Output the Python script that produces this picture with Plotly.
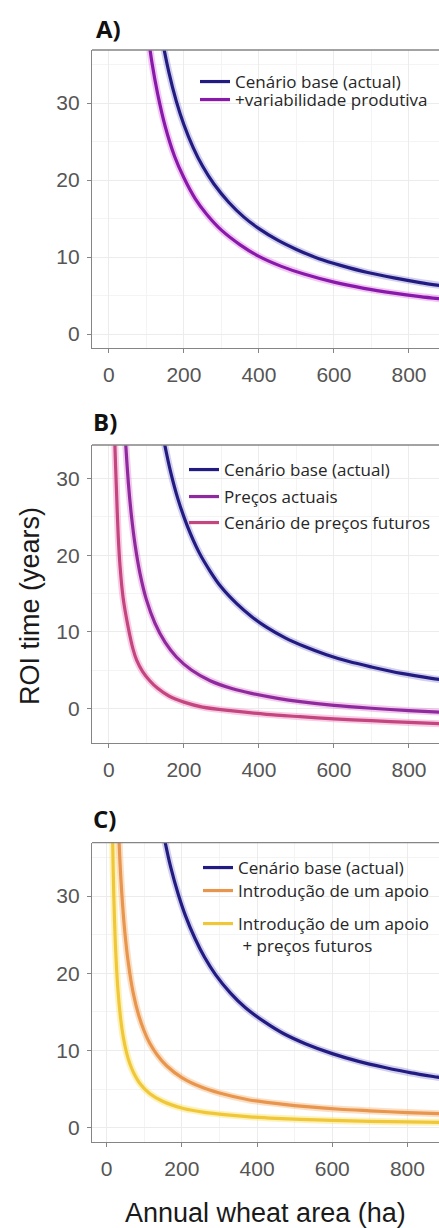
import plotly.graph_objects as go

# ---------------- data ----------------
# Panel A
a_base_x = [130, 140, 160, 180, 200, 225, 250, 280, 320, 360, 400, 450, 500, 560, 620, 690, 760, 830, 900]
a_base_y = [41.7, 38.8, 34.0, 30.2, 27.2, 24.2, 21.8, 19.5, 17.1, 15.2, 13.7, 12.2, 11.0, 9.8, 8.9, 8.0, 7.3, 6.7, 6.2]
a_var_x = [95, 100, 115, 130, 150, 175, 200, 230, 260, 300, 350, 400, 460, 520, 600, 680, 760, 830, 900]
a_var_y = [42.6, 40.5, 35.2, 31.2, 27.0, 23.1, 20.3, 17.6, 15.6, 13.5, 11.6, 10.1, 8.8, 7.8, 6.75, 5.95, 5.33, 4.88, 4.5]

# Panel B
b_base_x = [140, 149, 165, 185, 210, 240, 270, 300, 340, 380, 420, 470, 520, 580, 640, 700, 780, 860, 920]
b_base_y = [36.8, 34.4, 30.8, 27.2, 23.7, 20.4, 17.9, 15.8, 13.7, 12.0, 10.6, 9.2, 8.1, 7.0, 6.1, 5.4, 4.55, 3.9, 3.5]
b_cur_x = [40, 45, 52, 60, 70, 83, 100, 123, 150, 180, 220, 270, 330, 380, 450, 510, 600, 700, 800, 900]
b_cur_y = [39.0, 34.4, 29.4, 25.2, 21.3, 17.6, 14.2, 11.1, 8.6, 6.7, 5.0, 3.6, 2.55, 1.95, 1.3, 0.87, 0.38, 0.0, -0.31, -0.54]
b_fut_x = [14, 16, 20, 25, 30, 38, 51, 64, 74, 90, 109, 130, 160, 200, 250, 330, 420, 510, 600, 700, 800, 900]
b_fut_y = [38.8, 34.4, 28.8, 22.4, 18.4, 14.4, 10.7, 7.8, 6.3, 4.8, 3.6, 2.6, 1.6, 0.8, 0.15, -0.35, -0.8, -1.1, -1.38, -1.62, -1.85, -2.05]

# Panel C
c_base_x = [145, 155, 170, 190, 210, 235, 260, 290, 330, 370, 420, 470, 530, 600, 670, 740, 810, 880, 940]
c_base_y = [39.7, 37.1, 33.8, 30.3, 27.4, 24.5, 22.1, 19.8, 17.4, 15.5, 13.7, 12.2, 10.85, 9.6, 8.6, 7.8, 7.1, 6.55, 6.1]
c_sup_x = [30, 35, 40, 48, 58, 70, 85, 100, 115, 135, 160, 200, 250, 300, 380, 460, 540, 620, 700, 800, 900]
c_sup_y = [40.5, 34.8, 30.5, 25.5, 21.2, 17.6, 14.6, 12.5, 10.9, 9.4, 8.0, 6.5, 5.3, 4.5, 3.6, 3.1, 2.7, 2.4, 2.2, 1.97, 1.8]
c_supfut_x = [14, 16, 19, 23, 30, 37, 44, 53, 62, 71, 89, 115, 150, 204, 260, 320, 381, 450, 514, 600, 700, 800, 900]
c_supfut_y = [43.6, 36.9, 30.0, 24.0, 17.85, 14.2, 11.8, 9.7, 8.25, 7.2, 5.7, 4.4, 3.4, 2.5, 2.0, 1.67, 1.42, 1.23, 1.1, 0.96, 0.84, 0.76, 0.7]

names = {
    "base": "Cenário base (actual)",
    "var": "+variabilidade produtiva",
    "cur": "Preços actuais",
    "fut": "Cenário de preços futuros",
    "sup": "Introdução de um apoio",
    "supfut": "Introdução de um apoio<br> + preços futuros",
}
x_ticks = [0, 200, 400, 600, 800]
y_ticks = [0, 10, 20, 30]

col = {
    "base": "#221c82",
    "var": "#8819aa",
    "cur": "#8f2a9e",
    "fut": "#c4467f",
    "sup": "#e8964e",
    "supfut": "#f1c73a",
}
halo = {
    "base": "rgba(110,100,200,0.30)",
    "var": "rgba(215,80,220,0.32)",
    "cur": "rgba(215,90,200,0.32)",
    "fut": "rgba(240,120,190,0.38)",
    "sup": "rgba(245,170,100,0.38)",
    "supfut": "rgba(250,225,90,0.42)",
}

W, H = 439, 1228
fig = go.Figure()


def px_x(p):
    return p / W


def px_y(p):
    return 1 - p / H


series = [
    # (panel, key, x, y, legend name, legend row center y px, legend text left px)
    (1, "base", a_base_x, a_base_y, "legend", 82, 235),
    (1, "var", a_var_x, a_var_y, "legend2", 100, 235),
    (2, "base", b_base_x, b_base_y, "legend3", 470, 224),
    (2, "cur", b_cur_x, b_cur_y, "legend4", 497, 224),
    (2, "fut", b_fut_x, b_fut_y, "legend5", 523, 224),
    (3, "base", c_base_x, c_base_y, "legend6", 868, 238),
    (3, "sup", c_sup_x, c_sup_y, "legend7", 891, 238),
    (3, "supfut", c_supfut_x, c_supfut_y, "legend8", 919, 238),
]

for panel, key, xs, ys, leg, ly, lx in series:
    xa = "x" if panel == 1 else f"x{panel}"
    ya = "y" if panel == 1 else f"y{panel}"
    fig.add_trace(go.Scatter(x=xs, y=ys, mode="lines",
                             line=dict(color=halo[key], width=7, shape="spline", smoothing=0.8),
                             xaxis=xa, yaxis=ya, showlegend=False, hoverinfo="skip"))
for panel, key, xs, ys, leg, ly, lx in series:
    xa = "x" if panel == 1 else f"x{panel}"
    ya = "y" if panel == 1 else f"y{panel}"
    fig.add_trace(go.Scatter(x=xs, y=ys, mode="lines", name=names[key],
                             line=dict(color=col[key], width=3.2, shape="spline", smoothing=0.8),
                             xaxis=xa, yaxis=ya, showlegend=True, legend=leg))

legend_layout = {}
for panel, key, xs, ys, leg, ly, lx in series:
    legend_layout[leg] = dict(
        x=px_x(lx - 40), xanchor="left", y=px_y(ly), yanchor="middle",
        bgcolor="rgba(0,0,0,0)", borderwidth=0, valign="top",
        font=dict(family="Open Sans", size=17, color="#262626"),
        itemwidth=30,
    )
# two-line entry: anchor at top so the first line sits on the row
legend_layout["legend8"]["yanchor"] = "top"
legend_layout["legend8"]["y"] = px_y(919 - 13)

y_domains = {1: [1 - 348 / H, 1 - 50 / H], 2: [1 - 742.7 / H, 1 - 445 / H], 3: [1 - 1141.7 / H, 1 - 842.7 / H]}
y_ranges = {1: [-1.8, 36.9], 2: [-4.5, 34.4], 3: [-1.8, 36.9]}
x_ranges = {1: [-45, 880], 2: [-45, 880], 3: [-39, 884]}

axis_common = dict(
    showline=True, linecolor="#858585", linewidth=1.3, mirror=False,
    ticks="outside", ticklen=4, tickcolor="#858585", tickwidth=1,
    tickfont=dict(family="Liberation Sans, Arial", size=21, color="#555555"),
    showgrid=True, gridcolor="#ececec", gridwidth=1, zeroline=False,
)
for p in (1, 2, 3):
    sx = "" if p == 1 else str(p)
    fig.layout[f"xaxis{sx}"] = dict(
        axis_common, domain=[92 / W, 1], range=x_ranges[p], tickvals=x_ticks,
        anchor=f"y{sx}", ticklabelstandoff=4,
        minor=dict(dtick=100, tick0=0, showgrid=True, gridcolor="#f4f4f4", gridwidth=0.7, ticks=""),
    )
    fig.layout[f"yaxis{sx}"] = dict(
        axis_common, domain=y_domains[p], range=y_ranges[p], tickvals=y_ticks,
        anchor=f"x{sx}", ticklabelstandoff=3,
        minor=dict(dtick=5, tick0=0, showgrid=True, gridcolor="#f4f4f4", gridwidth=0.7, ticks=""),
    )

shapes = []
for p in (1, 2, 3):
    sx = "" if p == 1 else str(p)
    shapes.append(dict(type="line", xref=f"x{sx} domain", yref=f"y{sx} domain", x0=0, x1=1, y0=1, y1=1,
                       line=dict(color="#858585", width=1.3)))

label_font = dict(family="Open Sans", size=24, color="#111111")
annotations = [
    dict(text="<b>A)</b>", x=px_x(94), y=px_y(28), xref="paper", yref="paper", xanchor="left", yanchor="middle",
         showarrow=False, font=label_font),
    dict(text="<b>B)</b>", x=px_x(91), y=px_y(421), xref="paper", yref="paper", xanchor="left", yanchor="middle",
         showarrow=False, font=label_font),
    dict(text="<b>C)</b>", x=px_x(91), y=px_y(818), xref="paper", yref="paper", xanchor="left", yanchor="middle",
         showarrow=False, font=label_font),
    dict(text="ROI time (years)", x=px_x(30), y=px_y(606), xref="paper", yref="paper", xanchor="center",
         yanchor="middle", textangle=-90, showarrow=False,
         font=dict(family="Liberation Sans, Arial", size=27, color="#1a1a1a")),
    dict(text="Annual wheat area (ha)", x=px_x(265), y=px_y(1213), xref="paper", yref="paper", xanchor="center",
         yanchor="middle", showarrow=False,
         font=dict(family="Liberation Sans, Arial", size=27, color="#1a1a1a")),
]

fig.update_layout(
    width=W, height=H, autosize=False,
    margin=dict(l=0, r=0, t=0, b=0),
    paper_bgcolor="white", plot_bgcolor="white",
    shapes=shapes, annotations=annotations,
    **legend_layout,
)

fig.write_html(
    "out.html",
    config={"displayModeBar": False},
    post_script="document.body.style.margin='0px';document.body.style.overflow='hidden';",
)
